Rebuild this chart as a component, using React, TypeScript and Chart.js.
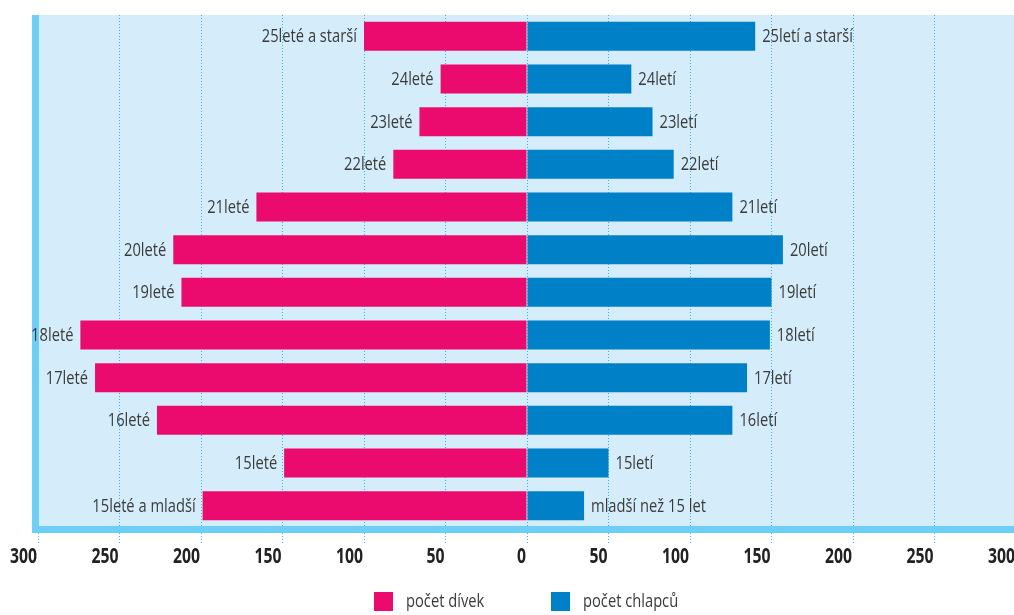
import React, { useEffect, useRef } from "react";
import { Chart, registerables } from "chart.js";

Chart.register(...registerables);

// ---- data ----
const categories = ["25+", "24", "23", "22", "21", "20", "19", "18", "17", "16", "15", "<15"];
const girlLabels = [
  "25leté a starší", "24leté", "23leté", "22leté", "21leté", "20leté",
  "19leté", "18leté", "17leté", "16leté", "15leté", "15leté a mladší",
];
const boyLabels = [
  "25letí a starší", "24letí", "23letí", "22letí", "21letí", "20letí",
  "19letí", "18letí", "17letí", "16letí", "15letí", "mladší než 15 let",
];
const girls = [100, 53, 66, 82, 166, 217, 212, 274, 265, 227, 149, 199];
const boys = [140, 64, 77, 90, 126, 157, 150, 149, 135, 126, 50, 35];
const seriesNames = ["počet dívek", "počet chlapců"];
const xMin = -300;
const xMax = 300;
const xStep = 50;

// ---- styles ----
const PINK = "#eb0a6e";
const BLUE = "#0080c6";
const BG = "#d5edfa";
const FRAME = "#6dcff6";
const GRID = "#2cb8ea";
const TEXT = "#3a3a3a";
const FONT = '"Open Sans", "Liberation Sans", sans-serif';
const SQUEEZE = 0.84;
const W = 1054;
const H = 615;

function narrowText(ctx: any, text: string, x: number, y: number, align: string, sx: number) {
  ctx.save();
  ctx.translate(x, y);
  ctx.scale(sx, 1);
  ctx.textAlign = align;
  ctx.fillText(text, 0, 0);
  ctx.restore();
}

const framePlugin = {
  id: "frame",
  beforeDraw(chart: any) {
    const { ctx, chartArea } = chart;
    ctx.save();
    ctx.fillStyle = BG;
    ctx.fillRect(chartArea.left - 6, chartArea.top, chart.width, chartArea.bottom - chartArea.top);
    ctx.restore();
  },
  beforeDatasetsDraw(chart: any) {
    const { ctx, chartArea } = chart;
    ctx.save();
    ctx.fillStyle = FRAME;
    ctx.fillRect(chartArea.left - 6, chartArea.top, 7, chartArea.bottom - chartArea.top + 6);
    ctx.fillRect(chartArea.left - 6, chartArea.bottom - 1, chart.width, 7);
    ctx.restore();
  },
};

const barLabelPlugin = {
  id: "barLabels",
  afterDatasetsDraw(chart: any) {
    const { ctx } = chart;
    ctx.save();
    ctx.font = `17.5px ${FONT}`;
    ctx.fillStyle = TEXT;
    ctx.textBaseline = "middle";
    chart.getDatasetMeta(0).data.forEach((bar: any, i: number) => {
      narrowText(ctx, girlLabels[i], bar.x - 7, bar.y + 1, "right", SQUEEZE);
    });
    chart.getDatasetMeta(1).data.forEach((bar: any, i: number) => {
      narrowText(ctx, boyLabels[i], bar.x + 7, bar.y + 1, "left", SQUEEZE);
    });
    ctx.restore();
  },
};

const tickLabelPlugin = {
  id: "tickLabels",
  afterDraw(chart: any) {
    const { ctx } = chart;
    const scale = chart.scales.x;
    ctx.save();
    ctx.font = `bold 21px ${FONT}`;
    ctx.fillStyle = "#222";
    ctx.textBaseline = "middle";
    scale.ticks.forEach((t: any) => {
      const px = scale.getPixelForValue(t.value);
      narrowText(ctx, String(Math.abs(t.value)), px - 1, 557, "right", 0.75);
    });
    ctx.restore();
  },
};

const legendPlugin = {
  id: "customLegend",
  afterDraw(chart: any) {
    const { ctx, chartArea } = chart;
    const cx = (chartArea.left + chartArea.right) / 2;
    const y = 592;
    const items = [
      { x: cx - 153, color: PINK, text: seriesNames[0] },
      { x: cx + 24, color: BLUE, text: seriesNames[1] },
    ];
    ctx.save();
    ctx.font = `17.5px ${FONT}`;
    ctx.textBaseline = "middle";
    items.forEach((it) => {
      ctx.fillStyle = it.color;
      ctx.fillRect(it.x, y, 19, 19);
      ctx.fillStyle = TEXT;
      narrowText(ctx, it.text, it.x + 32, y + 10, "left", SQUEEZE);
    });
    ctx.restore();
  },
};

export default function App() {
  const ref = useRef<HTMLCanvasElement | null>(null);

  useEffect(() => {
    if (!ref.current) return;
    const chart = new Chart(ref.current, {
      type: "bar",
      data: {
        labels: categories,
        datasets: [
          {
            label: seriesNames[0],
            data: girls.map((v) => -v),
            backgroundColor: PINK,
            borderWidth: 0,
            barPercentage: 0.68,
            categoryPercentage: 1,
          },
          {
            label: seriesNames[1],
            data: boys,
            backgroundColor: BLUE,
            borderWidth: 0,
            barPercentage: 0.68,
            categoryPercentage: 1,
          },
        ],
      },
      options: {
        indexAxis: "y",
        animation: false,
        responsive: false,
        layout: { padding: { top: 15, left: 38, right: 38, bottom: 0 } },
        plugins: {
          legend: { display: false },
          tooltip: { enabled: false },
          title: { display: false },
        },
        scales: {
          x: {
            stacked: true,
            min: xMin,
            max: xMax,
            afterFit(scale: any) {
              scale.height = 88;
              scale.paddingLeft = 0;
              scale.paddingRight = 0;
            },
            ticks: {
              stepSize: xStep,
              padding: 2,
              color: "rgba(0,0,0,0)",
              font: { family: FONT, size: 6 },
            },
            grid: {
              color: GRID,
              lineWidth: 1,
              tickLength: 16,
              tickColor: GRID,
              tickBorderDash: [1, 2],
              drawOnChartArea: true,
            },
            border: { display: false, dash: [1, 2] },
          },
          y: {
            stacked: true,
            display: false,
            grid: { display: false },
          },
        },
      },
      plugins: [framePlugin, barLabelPlugin, tickLabelPlugin, legendPlugin],
    });
    return () => chart.destroy();
  }, []);

  return (
    <div style={{ position: "fixed", left: 0, top: 0, width: 1014, height: H, overflow: "hidden", background: "#fff" }}>
      <canvas ref={ref} width={W} height={H} style={{ width: W, height: H, display: "block" }} />
    </div>
  );
}
